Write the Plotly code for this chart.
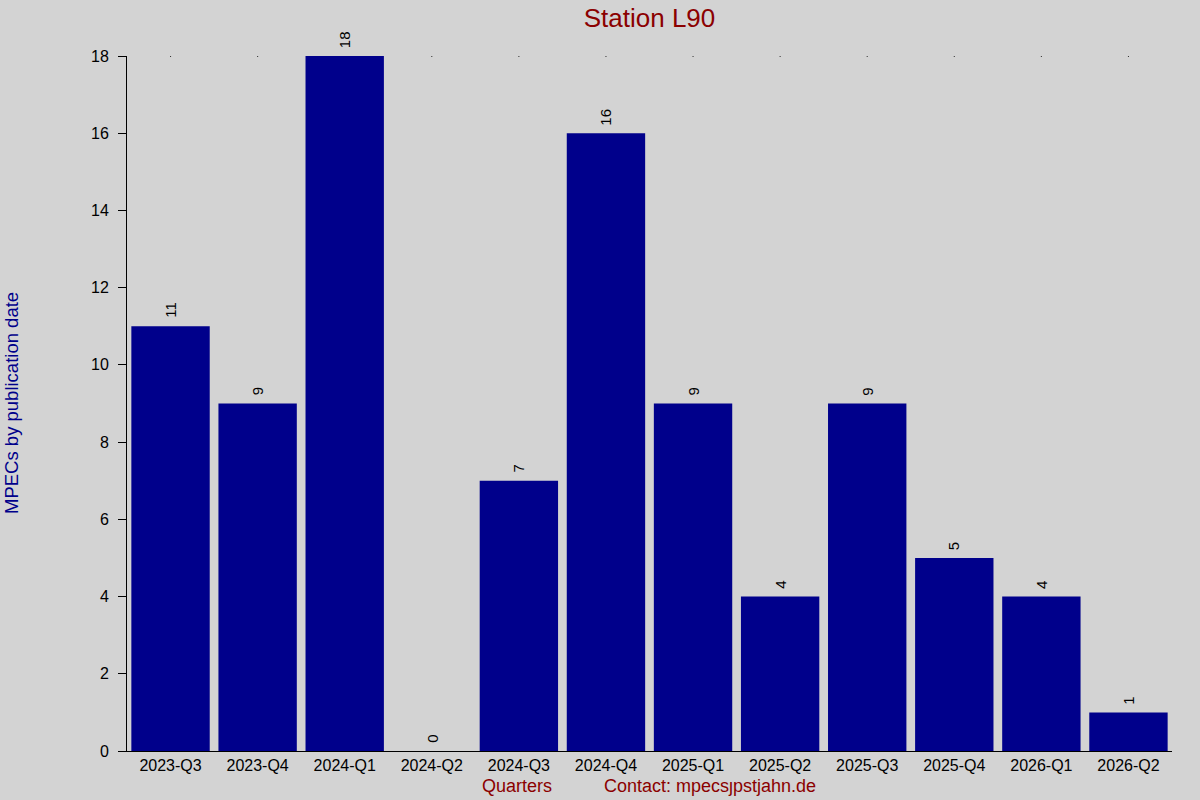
import plotly.graph_objects as go

quarters = ["2023-Q3", "2023-Q4", "2024-Q1", "2024-Q2", "2024-Q3", "2024-Q4",
            "2025-Q1", "2025-Q2", "2025-Q3", "2025-Q4", "2026-Q1", "2026-Q2"]
counts = [11, 9, 18, 0, 7, 16, 9, 4, 9, 5, 4, 1]
y_ticks = [0, 2, 4, 6, 8, 10, 12, 14, 16, 18]
y_max = 18

FONT = "Liberation Sans, Arial, sans-serif"
L, R, T, B = 127, 1172, 56, 751


def px_to_paper(px, py):
    return (px - L) / (R - L), (B - py) / (B - T)


fig = go.Figure()
fig.add_trace(go.Bar(x=quarters, y=counts, marker=dict(color="#00008b", line=dict(width=0)),
                     width=0.9, showlegend=False, hoverinfo="x+y"))

# tiny dots at the top of the plot area (top tick marks), drawn below the bars
for i, q in enumerate(quarters):
    fig.add_shape(type="rect", xref="x", yref="y", x0=i - 0.006, x1=i + 0.006,
                  y0=y_max - 0.02, y1=y_max + 0.02, fillcolor="black",
                  line=dict(width=0), layer="below")

for q, c in zip(quarters, counts):
    fig.add_annotation(x=q, y=c, text=str(c), textangle=-90, showarrow=False,
                       xanchor="center", yanchor="bottom", yshift=6,
                       font=dict(family=FONT, size=15, color="black"))

qx, qy = px_to_paper(517, 786)
cx, cy = px_to_paper(710, 786)
yx, yy = px_to_paper(11, 403)
fig.add_annotation(x=qx, y=qy, xref="paper", yref="paper", text="Quarters", showarrow=False,
                   xanchor="center", yanchor="middle",
                   font=dict(family=FONT, size=18, color="#8b0000"))
fig.add_annotation(x=cx, y=cy, xref="paper", yref="paper", text="Contact: mpecsȷpstjahn.de",
                   showarrow=False, xanchor="center", yanchor="middle",
                   font=dict(family=FONT, size=18, color="#8b0000"))
fig.add_annotation(x=yx, y=yy, xref="paper", yref="paper", text="MPECs by publication date",
                   showarrow=False, textangle=-90, xanchor="center", yanchor="middle",
                   font=dict(family=FONT, size=18.5, color="#00008b"))

fig.update_layout(
    width=1200, height=800,
    paper_bgcolor="#d3d3d3", plot_bgcolor="#d3d3d3",
    margin=dict(l=L, r=1200 - R, t=T, b=800 - B),
    title=dict(text="Station L90", x=(L + R) / 2 / 1200, xanchor="center",
               y=1 - 18 / 800, yanchor="middle",
               font=dict(family=FONT, size=26, color="#8b0000")),
    bargap=0.1,
    xaxis=dict(type="category", showgrid=False, showline=True, linecolor="black", linewidth=1,
               ticks="", tickfont=dict(family=FONT, size=16, color="black"),
               range=[-0.5, len(quarters) - 0.5], fixedrange=True),
    yaxis=dict(range=[0, y_max], tickvals=y_ticks, showgrid=False, zeroline=False,
               showline=True, linecolor="black", linewidth=1,
               ticks="outside", ticklen=8, tickcolor="black", ticklabelstandoff=6,
               tickfont=dict(family=FONT, size=16, color="black")),
)

fig.write_html("out.html", config={"displayModeBar": False},
               post_script="document.body.style.margin='0';document.body.style.overflow='hidden';")
